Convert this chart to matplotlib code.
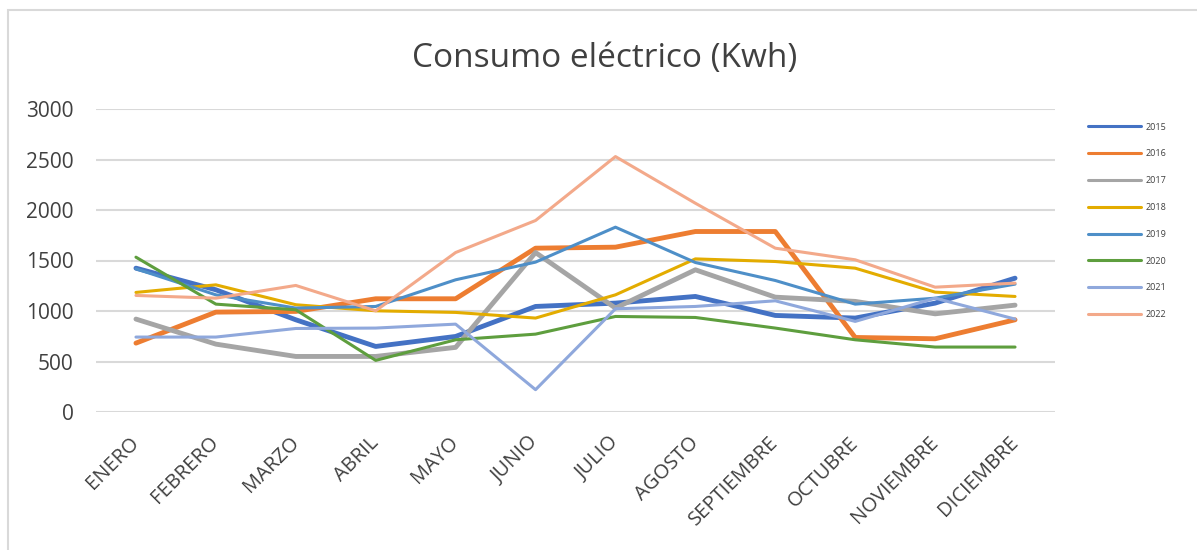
import matplotlib.pyplot as plt
from matplotlib.patches import Rectangle

# data =======================================================
meses = ["ENERO", "FEBRERO", "MARZO", "ABRIL", "MAYO", "JUNIO", "JULIO",
         "AGOSTO", "SEPTIEMBRE", "OCTUBRE", "NOVIEMBRE", "DICIEMBRE"]
years = ["2015", "2016", "2017", "2018", "2019", "2020", "2021", "2022"]

c2015 = [1424, 1210, 913, 649, 748, 1045, 1078, 1144, 956, 930, 1078, 1325]
c2016 = [682, 989, 996, 1121, 1121, 1622, 1632, 1787, 1787, 738, 725, 913]
c2017 = [920, 672, 550, 550, 640, 1579, 1029, 1408, 1137, 1095, 972, 1058]
c2018 = [1184, 1259, 1062, 1002, 986, 930, 1160, 1516, 1490, 1424, 1187, 1144]
c2019 = [1418, 1160, 1029, 1045, 1309, 1484, 1830, 1480, 1302, 1068, 1127, 1266]
c2020 = [1533, 1068, 1012, 511, 715, 771, 946, 936, 831, 715, 643, 643]
c2021 = [742, 742, 827, 831, 870, 221, 1022, 1045, 1101, 897, 1127, 920]
c2022 = [1154, 1127, 1253, 1002, 1579, 1896, 2529, 2067, 1622, 1507, 1236, 1276]
series = [c2015, c2016, c2017, c2018, c2019, c2020, c2021, c2022]

colores = ["#4472C4", "#ED7D31", "#A5A5A5", "#E3AC00",
           "#4E8FC8", "#5E9E3E", "#8FA8DC", "#F3A98A"]
grosor = [3.5, 3.5, 3.5, 2.2, 2.2, 2.2, 2.2, 2.2]
# end data ====================================================

plt.rcParams['font.family'] = ['Open Sans', 'DejaVu Sans']
txt = "#404040"

fig = plt.figure(figsize=(11.97, 5.5), dpi=100)
ax = fig.add_axes([96 / 1197, 1 - 412 / 550, (1055 - 96) / 1197, (412 - 109) / 550])

# chart border (only left and top edges fall inside the picture)
fig.patches.append(Rectangle((8 / 1197, -0.1), 1.2, 1 - 10 / 550 + 0.1,
                             transform=fig.transFigure, fill=False,
                             edgecolor="#D9D9D9", linewidth=1.5))

x = range(len(meses))
for vals, yr, col, lw in zip(series, years, colores, grosor):
    ax.plot(x, vals, color=col, linewidth=lw, label=yr, solid_capstyle='round')

ax.set_xlim(-0.5, len(meses) - 0.5)
ax.set_ylim(0, 3000)
ax.set_yticks(range(0, 3001, 500))
ax.grid(axis='y', color="#D9D9D9", linewidth=1.5)
ax.set_axisbelow(True)
for s in ax.spines.values():
    s.set_visible(False)
ax.tick_params(length=0)
ax.tick_params(axis='y', labelsize=15, labelcolor=txt, pad=16)
ax.set_xticks(list(x))
ax.set_xticklabels(meses, rotation=45, ha='right', va='center',
                   rotation_mode='anchor', fontsize=14.5, color=txt)
ax.tick_params(axis='x', pad=20)

fig.text(605 / 1197, 1 - 58 / 550, "Consumo eléctrico (Kwh)", ha='center',
         va='center', fontsize=24, color=txt)

handles, labels = ax.get_legend_handles_labels()
leg = fig.legend(handles, labels, loc='upper left',
                 bbox_to_anchor=(1084 / 1197, 1 - 119 / 550),
                 frameon=False, fontsize=6.5, handlelength=5.9,
                 handletextpad=0.5, labelspacing=1.97, borderaxespad=0)
for line in leg.get_lines():
    line.set_linewidth(2.2)
for t in leg.get_texts():
    t.set_color(txt)

plt.savefig("out.png", dpi=100)
